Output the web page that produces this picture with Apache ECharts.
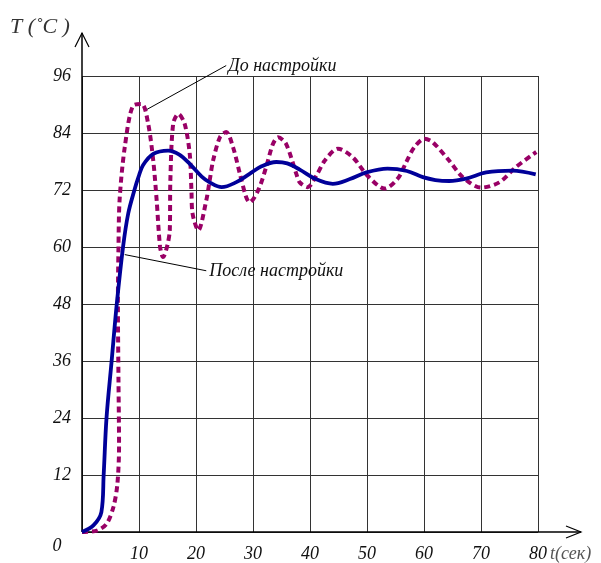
<!DOCTYPE html>
<html>
<head>
<meta charset="utf-8">
<script src="https://cdn.jsdelivr.net/npm/echarts@6/dist/echarts.min.js"></script>
<style>
  html, body { margin: 0; padding: 0; background: #fff; }
  #chart { width: 601px; height: 563px; }
</style>
</head>
<body>
<div id="chart"></div>
<script>
// время, сек (ось X) и температура (ось Y)
var xTicks = [0, 10, 20, 30, 40, 50, 60, 70, 80];
var yTicks = [0, 12, 24, 36, 48, 60, 72, 84, 96];

// после настройки (сплошная синяя)
var afterT = [0, 2, 3.4, 3.8, 4.3, 5.2, 6.1, 7.2, 8.1, 9.2, 9.9, 10.7, 12.5, 15.1, 17, 18.9, 21, 22.4, 24.5, 27, 29.4, 31.5, 34.1, 36, 38.2, 41, 44, 47, 49.9, 53.6, 57, 59.8, 62, 64.4, 67.4, 70.9, 75.5, 79.6];
var afterY = [0, 1.4, 4.2, 12, 24, 36, 48, 60, 67, 72, 74.7, 77.2, 79.6, 80.3, 79.5, 77.5, 74.8, 73.6, 72.6, 73.6, 75.4, 77, 77.9, 77.6, 76.3, 74.3, 73.3, 74.3, 75.7, 76.5, 76, 74.7, 74.1, 73.9, 74.4, 75.7, 76.1, 75.3];

// до настройки (пунктир)
var beforeT = [0, 2.6, 4.3, 5.5, 6.2, 6.5, 6.4, 6.3, 6.4, 6.6, 7.5, 9, 10.5, 11.6, 12.5, 13.1, 13.7, 14.2, 15.4, 15.5, 16, 16.9, 18, 18.9, 19.2, 19.4, 20.4, 21.8, 22.4, 23, 24.2, 25.3, 26.5, 27.7, 28.8, 29.4, 30.9, 32.3, 33.5, 34.4, 35.8, 37.6, 38.2, 39.6, 41.1, 42.6, 44.9, 47.5, 50.1, 53.1, 55.4, 56.9, 58.3, 60.1, 61.5, 64.4, 66.8, 70, 73.2, 76.1, 79.7];
var beforeY = [0, 0.3, 1.7, 5.2, 10, 18, 32, 48, 60, 70, 81, 89.8, 90.1, 86, 78.2, 69.8, 60, 57.9, 63.5, 74, 86, 88, 86, 79.6, 71.9, 67, 63.5, 69.8, 74, 78.2, 83.1, 84.2, 81, 75.4, 70.5, 69.4, 71.9, 76.8, 81.7, 83.1, 81.7, 75.4, 73.6, 72.6, 75, 78.2, 80.7, 78.9, 75, 72.3, 74.4, 77.9, 81, 82.8, 82.1, 78.2, 74.7, 72.5, 73.6, 76.8, 80];

var labelFont = 'italic 18px "Liberation Serif", "DejaVu Serif", serif';

function pairs(xs, ys) {
	return xs.map(function (x, i) { return [x, ys[i]]; });
}

var myChart = echarts.init(document.getElementById('chart'));
var option = {
	animation : false,
	backgroundColor : '#fff',
	grid : {
		left : 82,
		right : 63,
		top : 76,
		bottom : 31
	},
	xAxis : {
		type : 'value',
		min : xTicks[0],
		max : xTicks[xTicks.length - 1],
		interval : 10,
		axisLine : { show : false },
		axisTick : { show : false },
		axisLabel : {
			margin : 13,
			color : '#111',
			fontFamily : '"Liberation Serif", serif',
			fontStyle : 'italic',
			fontSize : 18,
			formatter : function (v) { return v === 0 ? '' : v; }
		},
		splitLine : { lineStyle : { color : '#333', width : 1 } }
	},
	yAxis : {
		type : 'value',
		min : yTicks[0],
		max : yTicks[yTicks.length - 1],
		interval : 12,
		axisLine : { show : false },
		axisTick : { show : false },
		axisLabel : {
			margin : 11,
			color : '#111',
			fontFamily : '"Liberation Serif", serif',
			fontStyle : 'italic',
			fontSize : 18,
			formatter : function (v) { return v === 0 ? '' : v; }
		},
		splitLine : { lineStyle : { color : '#333', width : 1 } }
	},
	series : [
		{
			name : 'До настройки',
			type : 'line',
			data : pairs(beforeT, beforeY),
			showSymbol : false,
			smooth : 0.3,
			lineStyle : { color : '#990066', width : 4, type : [6, 4], cap : 'butt' },
			z : 3
		},
		{
			name : 'После настройки',
			type : 'line',
			data : pairs(afterT, afterY),
			showSymbol : false,
			smooth : 0.35,
			lineStyle : { color : '#000099', width : 3.8 },
			z : 4
		}
	]
};
myChart.setOption(option);

// оси со стрелками, подписи и выноски
function px(x, y) { return myChart.convertToPixel({ gridIndex : 0 }, [x, y]); }
var o = px(0, 0);
var xEnd = px(80, 0);
var yTop = px(0, 96);
var ax = xEnd[0] + 43, ay = yTop[1] - 43;

var a1 = px(11.0, 88.7), a2 = px(25.3, 98.2);
var b1 = px(7.5, 58.4), b2 = px(21.8, 55);

myChart.setOption({
	graphic : [
		{ type : 'polyline', shape : { points : [[o[0], o[1]], [ax, o[1]]] }, style : { stroke : '#000', lineWidth : 1.5, fill : null } },
		{ type : 'polyline', shape : { points : [[o[0], o[1]], [o[0], ay]] }, style : { stroke : '#000', lineWidth : 1.5, fill : null } },
		{ type : 'polyline', shape : { points : [[ax - 15, o[1] - 6], [ax, o[1]], [ax - 15, o[1] + 6]] }, style : { stroke : '#000', lineWidth : 1.2, fill : null } },
		{ type : 'polyline', shape : { points : [[o[0] - 7, ay + 14], [o[0], ay], [o[0] + 7, ay + 14]] }, style : { stroke : '#000', lineWidth : 1.2, fill : null } },
		{ type : 'text', x : o[0] - 25, y : o[1] + 14, style : { text : '0', font : labelFont, fill : '#111', align : 'center', verticalAlign : 'middle' } },
		{ type : 'text', x : 10, y : 27, style : { text : 'T (\u02DAC )', font : 'italic 22px "Liberation Serif", serif', fill : '#333', verticalAlign : 'middle' } },
		{ type : 'text', x : 550, y : 554, style : { text : 't(сек)', font : 'italic 18px "Liberation Serif", serif', fill : '#555', verticalAlign : 'middle' } },
		{ type : 'line', shape : { x1 : a1[0], y1 : a1[1], x2 : a2[0], y2 : a2[1] }, style : { stroke : '#000', lineWidth : 1 } },
		{ type : 'text', x : a2[0] + 2, y : a2[1] + 1, style : { text : 'До настройки', font : labelFont, fill : '#111', verticalAlign : 'middle' } },
		{ type : 'line', shape : { x1 : b1[0], y1 : b1[1], x2 : b2[0], y2 : b2[1] }, style : { stroke : '#000', lineWidth : 1 } },
		{ type : 'text', x : b2[0] + 3, y : b2[1] + 1, style : { text : 'После настройки', font : labelFont, fill : '#111', verticalAlign : 'middle' } }
	]
});
</script>
</body>
</html>
